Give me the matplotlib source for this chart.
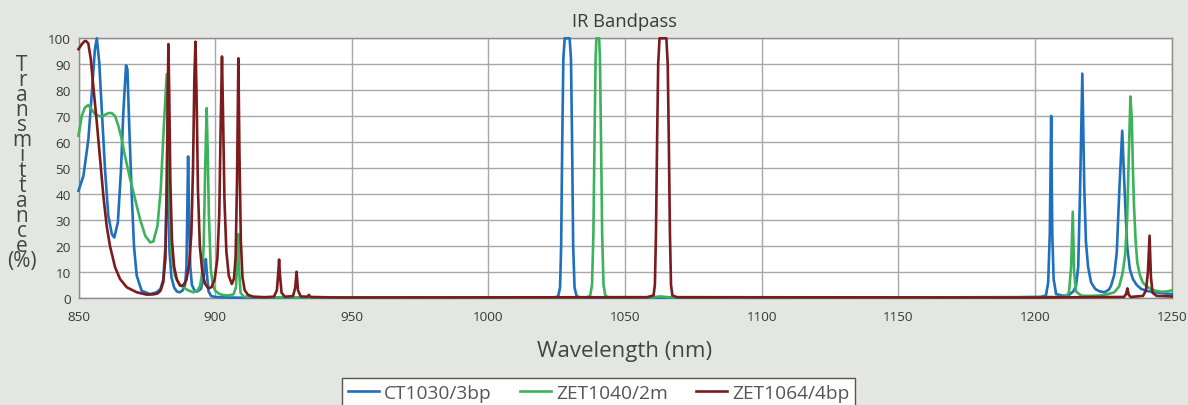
import matplotlib
matplotlib.use("Agg")
from matplotlib import pyplot as plt

# transmission curves: (wavelength nm, transmittance %)
ct1030 = [
    (850, 41.3), (851.8, 47), (853.6, 61), (854.8, 77.8), (856, 95.8), (856.7, 100),
    (857.6, 90.6), (858.5, 72.7), (859.7, 49.6), (860.9, 31.7), (862.2, 24.6), (863.1, 23.3),
    (864.4, 29.1), (865.5, 48.3), (866.4, 71.4), (867.4, 89.6), (867.9, 88), (868.6, 65),
    (869.5, 39.3), (870.3, 20), (871.3, 8.6), (873.1, 2.8), (876.2, 1.5), (878.6, 2.2),
    (880, 3.5), (881, 7), (881.8, 20), (882.3, 45), (882.5, 58), (882.8, 42), (883.3, 18),
    (884, 8), (885, 4), (886, 2.5), (887, 2.2), (888, 2.8), (889, 5), (889.5, 12),
    (889.9, 40), (890.1, 54.5), (890.4, 35), (890.9, 12), (891.5, 5), (892.5, 2.8),
    (893.5, 2.5), (894.8, 3.5), (895.8, 8), (896.3, 13), (896.6, 15), (897, 9), (897.6, 2.5),
    (898.5, 0.8), (900, 0.4), (905, 0.2), (910, 0.1), (1000, 0.1), (1024, 0.2),
    (1025.5, 0.6), (1026.2, 4), (1026.6, 20), (1027, 60), (1027.4, 92), (1027.9, 100),
    (1029.7, 100), (1030.2, 92), (1030.6, 60), (1031, 20), (1031.5, 4), (1032.3, 0.6),
    (1034, 0.2), (1100, 0.1), (1190, 0.2), (1202, 0.4), (1204, 1), (1204.8, 6),
    (1205.4, 25), (1205.9, 70.1), (1206.3, 25), (1206.8, 7.3), (1207.7, 1.5), (1210, 0.9),
    (1212, 0.9), (1214, 2.5), (1215, 4.7), (1215.8, 12), (1216.5, 43), (1217.3, 86.4),
    (1218, 43), (1218.6, 22), (1219.4, 12), (1220.5, 6), (1222, 3.5), (1223.5, 2.6),
    (1225.4, 2.2), (1227, 3.2), (1227.8, 4.7), (1229, 9), (1229.9, 17.6), (1230.9, 43),
    (1231.9, 64.4), (1232.7, 43), (1233.7, 20), (1234.7, 11), (1235.8, 7.3), (1237.2, 5),
    (1238.8, 3.5), (1241, 2.7), (1243.7, 2.2), (1247, 1.8), (1250, 1.5),
]

zet1040 = [
    (850, 62.5), (851.2, 70.2), (852.4, 73.4), (853.6, 74.3), (854.8, 72.7), (856, 70.8),
    (857.6, 70), (859.1, 70.2), (860.9, 71.2), (862.2, 71.2), (863.4, 70), (864.6, 66.3),
    (865.8, 61.2), (867, 54.7), (868.9, 45.8), (870.7, 38.1), (872.5, 30.4), (874.4, 24),
    (876.2, 21.4), (877.4, 21.8), (878.9, 27.8), (880.1, 42), (881.3, 67.6), (882.3, 86.2),
    (882.9, 60), (883.5, 30), (884.1, 16.3), (885.3, 8.6), (886.8, 5.5), (888.4, 4.1),
    (890, 3), (892, 2.2), (893.5, 2.8), (894.5, 4.7), (895.3, 10), (895.8, 20), (896.4, 52),
    (896.9, 73.1), (897.3, 55), (897.7, 32), (898.4, 11), (899.2, 5), (900, 2.8),
    (901.5, 1.6), (903, 1.1), (905, 1), (906.7, 1.4), (907.6, 4), (908.1, 13.7),
    (908.5, 24.6), (908.8, 10), (909.3, 2), (910.5, 0.5), (915, 0.3), (950, 0.2),
    (1030, 0.2), (1036, 0.3), (1037.2, 0.8), (1037.9, 5), (1038.4, 25), (1038.8, 60),
    (1039.2, 92), (1039.5, 100), (1040.5, 100), (1040.8, 92), (1041.2, 60), (1041.6, 25),
    (1042.1, 5), (1042.8, 0.8), (1044, 0.3), (1060, 0.3), (1063, 0.6), (1066, 0.3),
    (1150, 0.2), (1211, 0.4), (1212.4, 2), (1213.2, 12), (1213.8, 33.2), (1214.3, 10),
    (1215, 2.5), (1216.9, 0.9), (1220, 0.8), (1224.2, 1), (1227, 1.6), (1229, 2.2),
    (1230.8, 4.5), (1232.1, 9.9), (1233, 17), (1233.7, 30.4), (1234.3, 55), (1234.9, 77.6),
    (1235.4, 68.8), (1235.8, 50), (1236.2, 35.5), (1236.8, 22), (1237.4, 13.7), (1238.3, 9),
    (1239.4, 6), (1240.8, 4.5), (1242.4, 3.5), (1244, 2.8), (1246.1, 2.4), (1248, 2.5),
    (1250, 2.9),
]

zet1064 = [
    (850, 95.8), (851.2, 97.7), (852.1, 98.8), (852.7, 99), (853.6, 98), (854.5, 92),
    (855.4, 81.7), (856.7, 67.6), (857.9, 53.5), (859.1, 39.3), (860.3, 27.8), (861.5, 20.1),
    (863.4, 11.8), (865.2, 7.3), (867.7, 4.1), (871.3, 2.2), (875, 1.3), (877.5, 1.4),
    (879, 1.8), (880, 2.8), (881, 6), (881.8, 15), (882.3, 40), (882.6, 75), (882.9, 97.8),
    (883.2, 78), (883.6, 45), (884.2, 22), (885, 12), (886, 7), (887.2, 4.7), (888.3, 4.8),
    (889.5, 7), (890.5, 13), (891.3, 25), (891.9, 50), (892.4, 85), (892.8, 98.7),
    (893.2, 78), (893.7, 42), (894.4, 20), (895.3, 10), (896.3, 5.5), (897.5, 3.7),
    (898.7, 4.2), (899.8, 7), (900.8, 15), (901.5, 32), (902, 65), (902.5, 93), (902.9, 70),
    (903.4, 38), (904.1, 18), (905, 8.5), (906.1, 5.4), (906.9, 7.5), (907.5, 16), (908, 45),
    (908.5, 92.3), (908.9, 55), (909.4, 22), (910, 8), (910.8, 3), (912, 1.2), (914, 0.5),
    (918, 0.3), (921.5, 0.5), (922.6, 3), (923.1, 10), (923.4, 14.8), (923.7, 9),
    (924.3, 2), (925.5, 0.5), (928.5, 0.7), (929.3, 4), (929.8, 10.1), (930.3, 3),
    (931.3, 0.6), (933.7, 0.5), (934.3, 1.2), (934.9, 0.4), (945, 0.2), (1058, 0.3),
    (1060.4, 1), (1060.9, 5), (1061.3, 25), (1061.7, 60), (1062.1, 90), (1062.6, 100),
    (1065.1, 100), (1065.6, 90), (1066, 60), (1066.4, 25), (1066.8, 5), (1067.3, 1),
    (1069, 0.3), (1200, 0.2), (1232.5, 0.4), (1233.3, 1.5), (1233.8, 3.7), (1234.3, 1.2),
    (1235, 0.4), (1239.5, 0.8), (1240.6, 3), (1241.3, 10), (1241.9, 24), (1242.4, 8),
    (1243, 2), (1244.5, 0.8), (1250, 0.6),
]

series_names = ["CT1030/3bp", "ZET1040/2m", "ZET1064/4bp"]
series_colors = ["#1F6FBF", "#3CB35B", "#7B1B1D"]
x_ticks = [850, 900, 950, 1000, 1050, 1100, 1150, 1200, 1250]
y_ticks = [0, 10, 20, 30, 40, 50, 60, 70, 80, 90, 100]

W, H = 1188, 406
BG = "#E3E6E1"
TXT = "#3A3A3A"
plt.rcParams["font.family"] = ["Open Sans", "DejaVu Sans"]

fig = plt.figure(figsize=(W / 100, H / 100), dpi=100, facecolor=BG)
ax = fig.add_axes([78.5 / W, (H - 299) / H, (1171.7 - 78.5) / W, (299 - 39.3) / H])
ax.set_facecolor("white")

lines = []
for data, name, col in zip([ct1030, zet1040, zet1064], series_names, series_colors):
    xs = [p[0] for p in data]
    ys = [p[1] for p in data]
    ln, = ax.plot(xs, ys, color=col, lw=1.9, label=name, clip_on=False, zorder=3,
                  solid_joinstyle="round")
    lines.append(ln)

ax.set_xlim(850, 1250)
ax.set_ylim(0, 100)
ax.set_xticks(x_ticks)
ax.set_yticks(y_ticks)
ax.grid(True, color="#A8A8A8", lw=1.0)
ax.set_axisbelow(True)
for s in ax.spines.values():
    s.set_color("#8C8C8C")
    s.set_linewidth(1.0)
ax.tick_params(length=0, labelsize=9.7, labelcolor=TXT)
ax.tick_params(axis="x", pad=9)
ax.tick_params(axis="y", pad=5.5)

# title and x label
fig.text(625 / W, 1 - 27.3 / H, "IR Bandpass", ha="center", va="baseline",
         fontsize=13.2, color=TXT)
fig.text(625 / W, 1 - 357 / H, "Wavelength (nm)", ha="center", va="baseline",
         fontsize=16, color="#444444")

# stacked y label, one letter per row (single text object)
ylab = "\n".join(list("Transmittance") + ["(%)"])
fig.text(22 / W, 1 - 55 / H, ylab, ha="center", va="top", ma="center",
         fontsize=15, color="#444444", linespacing=0.63)

leg = fig.legend(handles=lines, loc="upper center", bbox_to_anchor=(598.5 / W, 1 - 379 / H),
                 ncol=3, frameon=True, fancybox=False, edgecolor="#555555",
                 framealpha=1, fontsize=13.8, handlelength=1.65, handletextpad=0.25,
                 columnspacing=1.45, borderpad=0.3, borderaxespad=0)
leg.get_frame().set_linewidth(1.0)
for t in leg.get_texts():
    t.set_color("#555555")

fig.savefig("out.png", dpi=100, facecolor=BG)
